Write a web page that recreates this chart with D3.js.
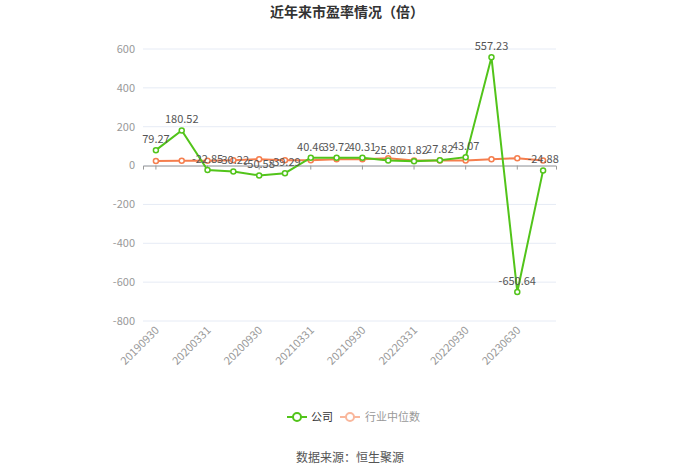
<!DOCTYPE html>
<html>
<head>
<meta charset="utf-8">
<script src="https://cdn.jsdelivr.net/npm/d3@7"></script>
<style>
  body { margin: 0; background: #fff; }
  svg { font-family: "Noto Sans CJK SC", "Microsoft YaHei", sans-serif; }
</style>
</head>
<body>
<div id="chart"></div>
<script>
const dates = ['20190930', '20191231', '20200331', '20200630', '20200930', '20201231',
  '20210331', '20210630', '20210930', '20211231', '20220331', '20220630',
  '20220930', '20230331', '20230630', '20230930']
const company = [79.27, 180.52, -22.85, -30.22, -50.58, -39.29, 40.46, 39.72,
  40.31, 25.80, 21.82, 27.82, 43.07, 557.23, -650.64, -24.88]
const industry = [24, 25, 25, 28, 33, 27, 28, 33, 33, 38, 26, 26, 26, 33, 38, 26]
const yTicks = [-800, -600, -400, -200, 0, 200, 400, 600]

const margin = { top: 49, right: 144, bottom: 153, left: 143 }
const width = 700 - margin.left - margin.right
const height = 474 - margin.top - margin.bottom

const root = d3.select('#chart')
  .append('svg')
  .attr('width', 700)
  .attr('height', 474)

const svg = root.append('g')
  .attr('transform', 'translate(' + margin.left + ',' + margin.top + ')')

const x = d3.scaleBand().domain(dates).range([0, width])
const y = d3.scaleLinear().domain([-800, 600]).range([height, 0])
const cx = d => x(d) + x.bandwidth() / 2

// title
root.append('text')
  .attr('x', 347)
  .attr('y', 17)
  .attr('text-anchor', 'middle')
  .attr('font-size', 14)
  .attr('font-weight', 'bold')
  .attr('fill', '#333')
  .text('近年来市盈率情况（倍）')

// grid lines
svg.selectAll('.grid')
  .data(yTicks)
  .enter()
  .append('line')
  .attr('x1', 0)
  .attr('x2', width)
  .attr('y1', d => y(d))
  .attr('y2', d => y(d))
  .attr('stroke', '#e6ebf5')
  .attr('stroke-width', 1)

// y axis labels
svg.selectAll('.ylab')
  .data(yTicks)
  .enter()
  .append('text')
  .attr('x', -8)
  .attr('y', d => y(d))
  .attr('dy', '0.35em')
  .attr('text-anchor', 'end')
  .attr('font-size', 11)
  .attr('fill', '#999')
  .text(d => d)

// zero axis line with ticks
const xAxis = d3.axisBottom(x)
  .tickValues(dates.filter((d, i) => i % 2 === 0))
  .tickSize(4)
  .tickFormat('')
svg.append('g')
  .attr('transform', 'translate(0,' + y(0) + ')')
  .call(xAxis)
  .call(g => g.select('.domain').attr('stroke', '#999'))
  .call(g => g.selectAll('.tick line').attr('stroke', '#999'))

// rotated x labels at bottom
svg.selectAll('.xlab')
  .data(dates.filter((d, i) => i % 2 === 0))
  .enter()
  .append('text')
  .attr('transform', d => 'translate(' + (cx(d) + 4) + ',' + (height + 10) + ') rotate(-45)')
  .attr('text-anchor', 'end')
  .attr('font-size', 11)
  .attr('fill', '#999')
  .text(d => d)

const line = d3.line()
  .x((d, i) => cx(dates[i]))
  .y(d => y(d))

// industry median
svg.append('path')
  .datum(industry)
  .attr('fill', 'none')
  .attr('stroke', '#f57e4e')
  .attr('stroke-width', 2)
  .attr('d', line)

svg.selectAll('.ipt')
  .data(industry)
  .enter()
  .append('circle')
  .attr('cx', (d, i) => cx(dates[i]))
  .attr('cy', d => y(d))
  .attr('r', 2.5)
  .attr('fill', '#fff')
  .attr('stroke', '#f57e4e')
  .attr('stroke-width', 1.5)

// company
svg.append('path')
  .datum(company)
  .attr('fill', 'none')
  .attr('stroke', '#52c41a')
  .attr('stroke-width', 2)
  .attr('d', line)

svg.selectAll('.cpt')
  .data(company)
  .enter()
  .append('circle')
  .attr('cx', (d, i) => cx(dates[i]))
  .attr('cy', d => y(d))
  .attr('r', 2.5)
  .attr('fill', '#fff')
  .attr('stroke', '#52c41a')
  .attr('stroke-width', 1.5)

svg.selectAll('.clab')
  .data(company)
  .enter()
  .append('text')
  .attr('x', (d, i) => cx(dates[i]))
  .attr('y', d => y(d) - 7)
  .attr('text-anchor', 'middle')
  .attr('font-size', 11)
  .attr('fill', '#555')
  .text(d => d.toFixed(2))

// legend
const legend = root.append('g').attr('transform', 'translate(0,417)')
legend.append('line')
  .attr('x1', 287).attr('x2', 307).attr('y1', 0).attr('y2', 0)
  .attr('stroke', '#52c41a').attr('stroke-width', 2)
legend.append('circle')
  .attr('cx', 297).attr('cy', 0).attr('r', 4)
  .attr('fill', '#fff').attr('stroke', '#52c41a').attr('stroke-width', 2)
legend.append('text')
  .attr('x', 311).attr('y', 0).attr('dy', '0.35em')
  .attr('font-size', 11).attr('fill', '#333').text('公司')
legend.append('line')
  .attr('x1', 340).attr('x2', 360).attr('y1', 0).attr('y2', 0)
  .attr('stroke', '#f9b79c').attr('stroke-width', 2)
legend.append('circle')
  .attr('cx', 350).attr('cy', 0).attr('r', 4)
  .attr('fill', '#fff').attr('stroke', '#f9b79c').attr('stroke-width', 2)
legend.append('text')
  .attr('x', 365).attr('y', 0).attr('dy', '0.35em')
  .attr('font-size', 11).attr('fill', '#999').text('行业中位数')

// source
root.append('text')
  .attr('x', 350)
  .attr('y', 462)
  .attr('text-anchor', 'middle')
  .attr('font-size', 12)
  .attr('fill', '#555')
  .text('数据来源：恒生聚源')
</script>
</body>
</html>
